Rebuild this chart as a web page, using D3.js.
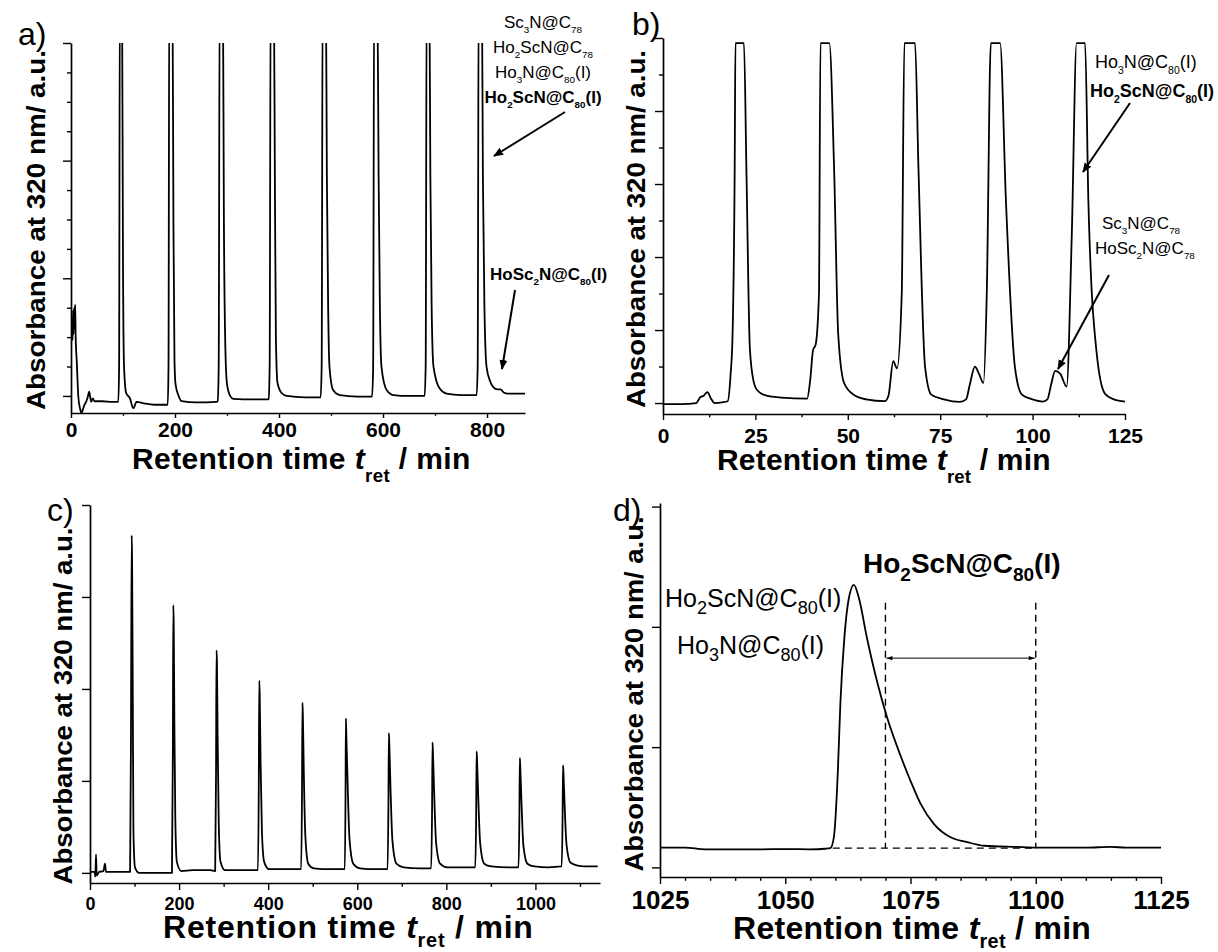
<!DOCTYPE html>
<html>
<head>
<meta charset="utf-8">
<script src="https://cdn.jsdelivr.net/npm/d3@7"></script>
<style>
  body { margin: 0; background: #fff; }
  svg { display: block; font-family: "Liberation Sans", Arial, sans-serif; }
</style>
</head>
<body>
<div id="chart"></div>
<script>
// ---- data: [retention time (min), absorbance (a.u.)] ----

// a) recycling run, 8 cycles, detector saturated (peaks run off the top)
const traceA = [
  [0, 1.7], [2, 2.4], [3, 1.9], [4, 2.9], [5, 2.1], [6, 3.0], [7, 2.3], [8, 3.1], [9, 2.0], [11, 1.2],
  [14, 0.0], [17, -0.4], [20, -0.58], [23, -0.45], [26, -0.3], [29, -0.2], [32, -0.05], [35, 0.15],
  [37, -0.05], [39, -0.2], [42, -0.08], [45, -0.18], [60, -0.18], [80, -0.2], [91, -0.2],
  [92.5, 1.0], [94, 14], [98, 14], [100, 4.4], [102, 1.0], [106, 0.1], [113, -0.07], [120, -0.42],
  [126, -0.2], [140, -0.25], [160, -0.3], [184, -0.3],
  [186, -0.3], [187.5, 1.0], [189, 14], [195, 14], [197, 5.8], [199, 1.2], [201, 0.4], [207, 0.0],
  [213, -0.18], [240, -0.22], [280, -0.2],
  [282, -0.18], [284, 1.0], [286, 14], [292, 14], [294, 6.0], [297, 1.5], [300, 0.4], [306, 0.0],
  [312, -0.1], [350, -0.12], [378, -0.12],
  [380, -0.1], [382, 1.0], [384, 14], [390, 14], [392, 7.5], [394, 2.0], [397, 0.45], [405, 0.1],
  [415, 0.0], [450, -0.05], [478, -0.05],
  [480, -0.05], [482, 1.0], [484, 14], [490, 14], [492, 7.5], [494.5, 3.0], [497, 1.0], [504, 0.2],
  [517, 0.03], [550, -0.02], [578, -0.02],
  [579, -0.02], [581, 1.0], [583, 14], [589, 14], [591.5, 7.5], [594, 3.0], [597, 1.0], [607, 0.2],
  [620, 0.03], [650, 0.0], [678, 0.0],
  [680, 0.0], [682, 1.0], [684, 14], [689, 14], [691, 7.5], [693.5, 3.0], [697, 1.0], [709, 0.25],
  [722, 0.08], [750, 0.03], [778, 0.03],
  [780, 0.03], [782, 1.0], [784, 14], [790, 14], [792, 7.5], [795, 3.0], [799, 1.0], [806, 0.5],
  [812, 0.3], [820, 0.22], [826, 0.22], [832, 0.12], [840, 0.08], [873, 0.08]
]

// b) first 125 min, flat tops = saturated detector
const traceB = [
  [0, -0.03], [5, -0.03], [9, 0.0], [10, 0.15], [11, 0.2], [12, 0.3], [13, 0.12], [14, 0.0], [16, 0.02],
  [17.5, 0.05], [18.3, 0.8], [18.8, 1.8], [19.4, 6.5], [19.6, 9.86], [21.9, 9.86], [22.6, 6.2],
  [23.5, 1.5], [24.5, 0.6], [25.5, 0.35], [28, 0.2], [32, 0.15], [39, 0.12],
  [39.8, 0.6], [40.6, 1.45], [41.3, 1.6], [42.2, 3.0], [42.6, 9.86], [45, 9.86], [46.3, 6.4],
  [47.4, 1.9], [49, 0.55], [51.7, 0.22], [55, 0.1], [60, 0.05],
  [61, 0.2], [62.3, 1.15], [63.3, 0.95], [64.6, 3.0], [65.3, 9.86], [68.2, 9.86], [69.1, 6.5],
  [70.9, 1.0], [72.6, 0.23], [76, 0.1], [80.3, 0.03],
  [82, 0.1], [83, 0.5], [84.4, 1.0], [85.5, 0.8], [86.7, 0.55], [87.6, 3.0], [88.7, 9.86],
  [91.2, 9.86], [92.8, 5.5], [95.2, 1.0], [97.1, 0.23], [100, 0.1], [102.8, 0.04],
  [104, 0.1], [105, 0.5], [106.1, 0.88], [107.5, 0.8], [109.2, 0.45], [110.6, 4.6], [111.9, 9.86],
  [114.2, 9.86], [115.1, 5.5], [117.3, 1.4], [119.6, 0.25], [122, 0.1], [125, 0.04]
]

// c) 11 recycling cycles, unsaturated
const traceC = [
  [0, 0.01], [10, 0.01], [12, -0.04], [13.5, 0.2], [15, -0.03], [20, 0.01], [30, 0.02], [33.7, 0.1],
  [36, 0.01], [60, 0.01], [90, 0.01],
  [92, 1.5], [93.6, 3.67], [94.5, 3.4], [96, 2.0], [97.5, 0.45], [101, 0.06], [110, 0.0], [150, 0.0],
  [184, 0.0], [186, 1.3], [187, 2.91], [188, 2.7], [189.5, 1.6], [191.5, 0.6], [195, 0.12], [205, 0.02],
  [230, 0.03], [270, 0.03],
  [281, 0.02], [283, 1.1], [284, 2.42], [285, 2.3], [286.5, 1.5], [289, 0.55], [293, 0.12], [303, 0.03],
  [340, 0.03], [376, 0.03],
  [377, 0.03], [379, 1.0], [380, 2.09], [381, 1.95], [383, 1.2], [386, 0.45], [391, 0.12], [402, 0.04],
  [440, 0.04], [473, 0.04],
  [474, 0.04], [476, 0.9], [477, 1.85], [478, 1.7], [480, 1.1], [483.5, 0.4], [490, 0.1], [502, 0.05],
  [540, 0.04], [571, 0.04],
  [572, 0.04], [573.7, 0.85], [574.5, 1.68], [575.5, 1.5], [578, 1.05], [582.5, 0.38], [591, 0.1],
  [606, 0.05], [640, 0.04], [667, 0.04],
  [668, 0.04], [670, 0.75], [671, 1.52], [672, 1.4], [674.5, 0.95], [679, 0.35], [688, 0.1], [704, 0.06],
  [740, 0.05], [765, 0.05],
  [766, 0.05], [768, 0.7], [769, 1.42], [770, 1.3], [772.5, 0.9], [777, 0.33], [786, 0.1], [802, 0.06],
  [840, 0.06], [864, 0.06],
  [865, 0.06], [867, 0.65], [868, 1.32], [869, 1.22], [871.5, 0.85], [876, 0.32], [885, 0.1], [901, 0.07],
  [940, 0.06], [961, 0.06],
  [962, 0.06], [964, 0.6], [965, 1.25], [966, 1.15], [968.5, 0.8], [973, 0.3], [982, 0.1], [998, 0.07],
  [1030, 0.06], [1058, 0.07],
  [1059, 0.07], [1061, 0.6], [1062, 1.17], [1063, 1.08], [1065.5, 0.75], [1070, 0.3], [1079, 0.11],
  [1095, 0.08], [1120, 0.07], [1140, 0.07]
]

// d) last cycle, cut between 1070 and 1100 min
const traceD = [
  [1025, 0.165], [1030, 0.165], [1034, 0.15], [1040, 0.15], [1045, 0.15], [1050, 0.152], [1055, 0.15],
  [1058, 0.155], [1059, 0.16], [1059.7, 0.25], [1060.5, 0.8], [1061, 1.36], [1061.8, 1.91],
  [1062.7, 2.24], [1063.7, 2.35], [1064.7, 2.24], [1066.3, 1.91], [1068.3, 1.55], [1070.3, 1.25],
  [1073, 0.93], [1075, 0.72], [1077, 0.53], [1079.7, 0.36], [1083, 0.25], [1086.3, 0.21],
  [1089.7, 0.18], [1096.3, 0.17], [1100, 0.165], [1110, 0.165], [1115, 0.17], [1118, 0.165], [1125, 0.165]
]

// fraction cut in d)
const cutStart = 1070
const cutEnd = 1100
const cutBase = 0.16
const cutTop = 2.2
const cutArrowLevel = 1.74

// ticks
const xMajorA = [0, 200, 400, 600, 800]
const xMinorA = [100, 300, 500, 700]
const yMajorA = [0, 4, 8, 12]
const yMinorA = [1, 2, 3, 5, 6, 7, 9, 10, 11]
const xMajorB = [0, 25, 50, 75, 100, 125]
const xMinorB = [12.5, 37.5, 62.5, 87.5, 112.5]
const yMajorB = [0, 2, 4, 6, 8, 10]
const yMinorB = [1, 3, 5, 7, 9]
const xMajorC = [0, 200, 400, 600, 800, 1000]
const xMinorC = [100, 300, 500, 700, 900, 1100]
const yMajorC = [0, 1, 2, 3, 4]
const xMajorD = [1025, 1050, 1075, 1100, 1125]
const xMinorD = [1030, 1035, 1040, 1045, 1055, 1060, 1065, 1070, 1080, 1085, 1090, 1095, 1105, 1110, 1115, 1120]
const yMajorD = [0, 1, 2, 3]

const width = 1218
const height = 952

const svg = d3.create('svg')
    .attr('width', width)
    .attr('height', height)
    .attr('viewBox', [0, 0, width, height])

const defs = svg.append('defs')
defs.append('marker')
    .attr('id', 'head')
    .attr('viewBox', '0 0 10 10')
    .attr('refX', 9).attr('refY', 5)
    .attr('markerWidth', 5).attr('markerHeight', 5)
    .attr('markerUnits', 'strokeWidth')
    .attr('orient', 'auto')
  .append('path')
    .attr('d', 'M0,1 L10,5 L0,9 Z')
    .attr('fill', '#000')
defs.append('marker')
    .attr('id', 'thin')
    .attr('viewBox', '0 0 10 10')
    .attr('refX', 10).attr('refY', 5)
    .attr('markerWidth', 9).attr('markerHeight', 6)
    .attr('markerUnits', 'userSpaceOnUse')
    .attr('orient', 'auto-start-reverse')
  .append('path')
    .attr('d', 'M0,1.5 L10,5 L0,8.5 Z')
    .attr('fill', '#000')

/* one chromatogram panel */
const drawPanel = p => {
    const x = d3.scaleLinear().domain(p.xd).range(p.xr)
    const y = d3.scaleLinear().domain(p.yd).range(p.yr)
    const g = svg.append('g')

    defs.append('clipPath').attr('id', 'clip-' + p.id)
      .append('rect')
        .attr('x', p.xr[0]).attr('y', p.yr[1])
        .attr('width', p.xr[1] - p.xr[0]).attr('height', p.yr[0] - p.yr[1])

    const line = d3.line()
        .x(d => x(d[0]))
        .y(d => y(d[1]))
        .curve(d3.curveMonotoneX)

    g.append('path')
        .datum(p.data)
        .attr('clip-path', `url(#clip-${p.id})`)
        .attr('fill', 'none')
        .attr('stroke', '#000')
        .attr('stroke-width', p.lw)
        .attr('stroke-linejoin', 'round')
        .attr('d', line)

    // axes
    const xa = g.append('g').attr('transform', `translate(0,${p.yr[0]})`)
        .call(d3.axisBottom(x).tickValues(p.xMajor).tickSize(p.xt).tickPadding(p.pad)
            .tickSizeOuter(0).tickFormat(d3.format('d')))
    xa.selectAll('text')
        .attr('font-size', p.tickFont)
        .attr('font-weight', 'bold')
        .attr('font-family', 'Liberation Sans, Arial, sans-serif')
    g.append('g').attr('transform', `translate(0,${p.yr[0]})`)
        .call(d3.axisBottom(x).tickValues(p.xMinor).tickSize(p.xt * 0.55).tickFormat(''))
        .call(s => s.select('.domain').remove())

    g.append('g').attr('transform', `translate(${p.xr[0]},0)`)
        .call(d3.axisLeft(y).tickValues(p.yMajor).tickSize(8).tickSizeOuter(0).tickFormat(''))
    if (p.yMinor.length) {
        g.append('g').attr('transform', `translate(${p.xr[0]},0)`)
            .call(d3.axisLeft(y).tickValues(p.yMinor).tickSize(4).tickFormat(''))
            .call(s => s.select('.domain').remove())
    }
    g.selectAll('.domain').attr('stroke-width', 1.7)
    g.selectAll('.tick line').attr('stroke-width', 1.4)

    // y title
    g.append('text')
        .attr('transform', `translate(${p.yTitle[0]},${p.yTitle[1]}) rotate(-90)`)
        .attr('text-anchor', 'middle')
        .attr('font-size', 26)
        .attr('font-weight', 'bold')
        .attr('textLength', p.yTitle[2])
        .attr('lengthAdjust', 'spacingAndGlyphs')
        .text('Absorbance at 320 nm/ a.u.')

    // x title
    const fs = p.xTitle[2]
    const t = g.append('text')
        .attr('x', p.xTitle[0]).attr('y', p.xTitle[1])
        .attr('font-size', fs)
        .attr('font-weight', 'bold')
        .attr('letter-spacing', p.xTitle[3])
        .attr('style', 'white-space:pre')
    t.append('tspan').text('Retention time ')
    t.append('tspan').attr('font-style', 'italic').text('t')
    t.append('tspan').attr('font-size', fs * 0.62).attr('dy', fs * p.xTitle[4]).text('ret')
    t.append('tspan').attr('dy', -fs * p.xTitle[4]).text(' / min')

    // panel letter
    g.append('text')
        .attr('x', p.letter[0]).attr('y', p.letter[1])
        .attr('font-size', 32)
        .text(p.id + ')')

    return { g, x, y }
}

/* formula with subscripts, "_80" marks a subscript */
const chem = (g, x, y, str, fs, opt = {}) => {
    const sub = opt.sub || 0.58
    const drop = opt.drop || 0.32
    const t = g.append('text')
        .attr('x', x).attr('y', y)
        .attr('font-size', fs)
        .attr('font-weight', opt.bold ? 'bold' : 'normal')
        .attr('text-anchor', opt.anchor || 'start')
    let down = false
    str.split(/_(\d+)/).forEach((s, i) => {
        if (!s) return
        if (i % 2) {
            t.append('tspan').attr('font-size', fs * sub).attr('dy', fs * drop).text(s)
            down = true
        } else {
            const ts = t.append('tspan').text(s)
            if (down) { ts.attr('dy', -fs * drop); down = false }
        }
    })
    return t
}

const arrow = (g, x1, y1, x2, y2) => g.append('line')
    .attr('x1', x1).attr('y1', y1).attr('x2', x2).attr('y2', y2)
    .attr('stroke', '#000').attr('stroke-width', 2)
    .attr('marker-end', 'url(#head)')

/**
 *      a)
 */
const pa = drawPanel({
    id: 'a', data: traceA, xd: [0, 873], xr: [71, 525], yd: [-0.58, 12], yr: [413, 43],
    xMajor: xMajorA, xMinor: xMinorA, yMajor: yMajorA, yMinor: yMinorA,
    xt: 5, pad: 4, tickFont: 21, lw: 1.8,
    yTitle: [45, 230, 360], xTitle: [132, 469, 30, 0.4, 0.42], letter: [18, 45]
})
chem(pa.g, 543, 28, 'Sc_3N@C_78', 17, { anchor: 'middle' })
chem(pa.g, 543, 53, 'Ho_2ScN@C_78', 17, { anchor: 'middle' })
chem(pa.g, 543, 78, 'Ho_3N@C_80(I)', 17, { anchor: 'middle' })
chem(pa.g, 543, 103, 'Ho_2ScN@C_80(I)', 17, { anchor: 'middle', bold: true })
arrow(pa.g, 565, 112, 494, 156)
chem(pa.g, 490, 280, 'HoSc_2N@C_80(I)', 17, { bold: true })
arrow(pa.g, 515, 290, 502, 369)

/**
 *      b)
 */
const pb = drawPanel({
    id: 'b', data: traceB, xd: [0, 125], xr: [663, 1125], yd: [-0.3, 10], yr: [414, 38],
    xMajor: xMajorB, xMinor: xMinorB, yMajor: yMajorB, yMinor: yMinorB,
    xt: 6, pad: 8, tickFont: 21, lw: 1.8,
    yTitle: [645, 229, 358], xTitle: [717, 470, 30, 0.2, 0.42], letter: [632, 35]
})
chem(pb.g, 1095, 68, 'Ho_3N@C_80(I)', 18)
chem(pb.g, 1090, 97, 'Ho_2ScN@C_80(I)', 18, { bold: true })
arrow(pb.g, 1130, 103, 1083, 172)
chem(pb.g, 1102, 229, 'Sc_3N@C_78', 17)
chem(pb.g, 1095, 254, 'HoSc_2N@C_78', 17)
arrow(pb.g, 1109, 275, 1058, 369)

/**
 *      c)
 */
drawPanel({
    id: 'c', data: traceC, xd: [0, 1145], xr: [90, 600], yd: [-0.11, 4], yr: [883, 505],
    xMajor: xMajorC, xMinor: xMinorC, yMajor: yMajorC, yMinor: [],
    xt: 7, pad: 7, tickFont: 18, lw: 1.8,
    yTitle: [72, 706, 357], xTitle: [163, 938, 32, 0.8, 0.27], letter: [47, 521]
})

/**
 *      d)
 */
const pd = drawPanel({
    id: 'd', data: traceD, xd: [1025, 1125], xr: [660, 1161], yd: [-0.08, 3.03], yr: [877, 503],
    xMajor: xMajorD, xMinor: xMinorD, yMajor: yMajorD, yMinor: [],
    xt: 7, pad: 7, tickFont: 26, lw: 1.8,
    yTitle: [643, 694, 355], xTitle: [733, 939, 32, 0.3, 0.27], letter: [613, 521]
})
const dash = '7,5'
pd.g.append('line')
    .attr('x1', pd.x(1059.5)).attr('x2', pd.x(cutEnd))
    .attr('y1', pd.y(cutBase)).attr('y2', pd.y(cutBase))
    .attr('stroke', '#000').attr('stroke-width', 1.4).attr('stroke-dasharray', dash)
;[cutStart, cutEnd].forEach(v => {
    pd.g.append('line')
        .attr('x1', pd.x(v)).attr('x2', pd.x(v))
        .attr('y1', pd.y(cutTop)).attr('y2', pd.y(cutBase))
        .attr('stroke', '#000').attr('stroke-width', 1.4).attr('stroke-dasharray', dash)
})
pd.g.append('line')
    .attr('x1', pd.x(cutStart) + 1).attr('x2', pd.x(cutEnd) - 1)
    .attr('y1', pd.y(cutArrowLevel)).attr('y2', pd.y(cutArrowLevel))
    .attr('stroke', '#000').attr('stroke-width', 1)
    .attr('marker-start', 'url(#thin)').attr('marker-end', 'url(#thin)')

chem(pd.g, 665, 607, 'Ho_2ScN@C_80(I)', 25, { sub: 0.72, drop: 0.28 })
chem(pd.g, 677, 654, 'Ho_3N@C_80(I)', 25, { sub: 0.72, drop: 0.28 })
chem(pd.g, 863, 573, 'Ho_2ScN@C_80(I)', 28, { bold: true, sub: 0.68, drop: 0.28 })

document.getElementById('chart').appendChild(svg.node())
</script>
</body>
</html>
